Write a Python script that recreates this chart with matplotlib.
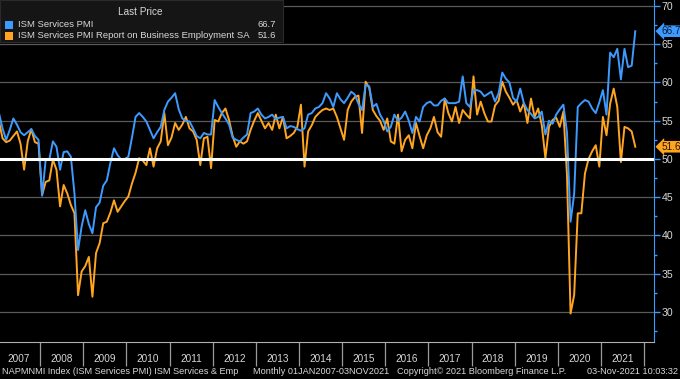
import numpy as np
import matplotlib
matplotlib.use("Agg")
import matplotlib.pyplot as plt
from matplotlib.patches import Rectangle
from matplotlib.ticker import MultipleLocator, FixedLocator, NullFormatter, FixedFormatter

plt.rcParams["font.family"] = ["Liberation Sans", "DejaVu Sans"]

# ---------------- data (monthly, Jan 2007 - Oct 2021) ----------------
start_year = 2007
pmi = [
    # 2007
    56.0, 54.0, 52.5, 53.8, 55.3, 54.5, 53.5, 53.1, 53.5, 53.9, 53.0, 52.5,
    # 2008
    45.2, 49.9, 49.9, 52.3, 51.6, 48.6, 50.9, 51.0, 50.3, 45.5, 38.1, 41.2,
    # 2009
    43.3, 41.5, 40.3, 43.7, 44.3, 46.5, 47.2, 49.5, 51.4, 50.5, 49.9, 50.0,
    # 2010
    50.3, 52.8, 55.5, 56.0, 55.5, 54.9, 53.8, 52.7, 53.5, 54.2, 56.4, 57.5,
    # 2011
    58.0, 58.6, 56.5, 55.3, 55.0, 54.9, 54.0, 53.0, 52.7, 53.4, 53.2, 53.2,
    # 2012
    57.7, 56.8, 56.0, 55.3, 54.5, 52.8, 52.5, 52.3, 52.8, 53.2, 56.0, 56.2,
    # 2013
    56.6, 55.8, 55.3, 55.5, 55.8, 55.2, 55.4, 55.5, 54.0, 54.3, 54.2, 53.9,
    # 2014
    53.7, 54.0, 55.8, 56.0, 56.6, 56.8, 57.3, 58.6, 57.9, 56.8, 58.6, 57.8,
    # 2015
    57.3, 58.0, 58.8, 58.4, 57.2, 56.4, 59.7, 59.5, 56.8, 57.2, 55.8, 55.0,
    # 2016
    53.6, 54.2, 55.8, 55.0, 55.4, 56.2, 55.0, 53.4, 55.5, 54.9, 56.8, 57.3,
    # 2017
    57.5, 57.0, 57.0, 57.6, 57.9, 57.3, 57.3, 57.3, 57.5, 60.8, 57.3, 56.8,
    # 2018
    59.0, 59.0, 58.8, 58.2, 58.5, 58.8, 57.5, 58.6, 61.3, 60.5, 60.0, 58.0,
    # 2019
    57.5, 59.2, 57.3, 56.4, 55.9, 55.3, 55.5, 56.2, 53.2, 55.0, 54.6, 55.8,
    # 2020
    56.5, 57.1, 53.5, 41.8, 45.4, 56.8, 57.3, 57.7, 57.5, 56.6, 56.0, 57.4,
    # 2021
    59.0, 55.8, 63.9, 63.3, 64.4, 60.4, 64.4, 62.0, 62.2, 66.7,
]
employment = [
    # 2007
    54.9, 52.7, 52.2, 52.4, 53.0, 53.6, 52.0, 48.6, 52.3, 53.9, 52.2, 52.0,
    # 2008
    45.3, 47.0, 47.2, 49.9, 48.6, 43.8, 46.6, 45.5, 44.0, 42.9, 32.2, 35.3,
    # 2009
    36.0, 37.2, 32.0, 37.7, 39.0, 41.6, 41.8, 43.0, 44.6, 43.1, 43.8, 44.5,
    # 2010
    45.1, 46.8, 48.2, 50.1, 49.8, 49.2, 51.4, 49.0, 51.4, 52.3, 56.0, 51.8,
    # 2011
    52.8, 54.7, 53.8, 54.5, 55.5, 54.0, 53.6, 52.5, 49.2, 52.7, 52.9, 48.8,
    # 2012
    55.1, 54.9, 56.0, 56.6, 55.1, 53.0, 51.6, 52.3, 52.0, 52.3, 53.8, 55.0,
    # 2013
    56.0, 55.0, 54.0, 54.7, 53.8, 55.8, 54.0, 55.5, 52.7, 53.0, 53.4, 54.2,
    # 2014
    57.1, 49.0, 53.6, 54.4, 55.5, 56.0, 56.4, 56.6, 56.4, 56.6, 55.5, 54.0,
    # 2015
    52.5, 56.4, 57.5, 58.1, 58.3, 53.4, 60.1, 59.3, 56.4, 55.6, 55.0, 53.8,
    # 2016
    55.3, 52.3, 52.0, 55.8, 51.0, 52.5, 53.1, 51.4, 54.7, 53.0, 51.4, 53.1,
    # 2017
    54.0, 55.5, 53.5, 52.9, 57.9, 56.0, 54.9, 56.8, 54.7, 56.4, 55.8, 55.3,
    # 2018
    60.8, 55.8, 57.5, 56.0, 54.9, 54.9, 57.0, 57.6, 60.1, 58.8, 58.0, 57.1,
    # 2019
    57.7, 56.2, 57.3, 54.7, 57.9, 55.5, 56.6, 54.4, 50.1, 54.2, 55.1, 55.4,
    # 2020
    54.2, 56.2, 48.0, 29.8, 32.2, 42.9, 42.9, 48.1, 50.0, 51.0, 51.8, 49.0,
    # 2021
    55.5, 53.1, 57.2, 59.2, 56.8, 49.6, 54.2, 54.0, 53.6, 51.6,
]
year_labels = [str(y) for y in range(2007, 2022)]
series_names = ["ISM Services PMI",
                "ISM Services PMI Report on Business Employment SA"]
last_values = [pmi[-1], employment[-1]]
footer_parts = ["NAPMNMI Index (ISM Services PMI) ISM Services & Emp",
                "Monthly 01JAN2007-03NOV2021",
                "Copyright\u00a9 2021 Bloomberg Finance L.P.",
                "03-Nov-2021 10:03:32"]

# ---------------- styling ----------------
BLUE = "#3d9bff"
ORANGE = "#ffa520"
GRID = "#5a5a5a"
TXT = "#d8d8d8"
W, H = 680, 379
FS = 6.6

t = start_year + (np.arange(len(pmi)) + 0.55) / 12.0

fig = plt.figure(figsize=(W / 100, H / 100), dpi=100, facecolor="black")
ax = fig.add_axes([0, 1 - 342 / H, 654 / W, 342 / H])
ax.set_facecolor("black")

ax.plot(t, employment, color=ORANGE, lw=1.4, zorder=3, solid_joinstyle="round")
ax.plot(t, pmi, color=BLUE, lw=1.4, zorder=4, solid_joinstyle="round")
ax.axhline(50, color="white", lw=2.2, zorder=5)

ax.set_xlim(2007.07, 2022.23)
ax.set_ylim(26.08, 70.78)

# y axis on the right
ax.yaxis.tick_right()
ax.yaxis.set_major_locator(MultipleLocator(5))
ax.yaxis.set_minor_locator(MultipleLocator(2.5))
ax.tick_params(axis="y", which="major", colors=BLUE, labelcolor=TXT, length=4,
               width=1, labelsize=FS + 1.0, pad=1.5)
ax.tick_params(axis="y", which="minor", colors=BLUE, length=2, width=1)
ax.grid(axis="y", which="major", color=GRID, lw=0.9, zorder=1)

# x axis: year separators and centred year labels
ax.xaxis.set_major_locator(FixedLocator(np.arange(2008, 2023)))
ax.xaxis.set_major_formatter(NullFormatter())
ax.xaxis.set_minor_locator(FixedLocator(np.arange(2007, 2022) + 0.5))
ax.xaxis.set_minor_formatter(FixedFormatter(year_labels))
ax.tick_params(axis="x", which="major", colors="#9a9a9a", length=17, width=0.9)
ax.tick_params(axis="x", which="minor", length=0, labelcolor=TXT,
               labelsize=FS + 0.6, pad=8.5)

for s in ["top", "left"]:
    ax.spines[s].set_visible(False)
ax.spines["right"].set_color(BLUE)
ax.spines["bottom"].set_color("#b0b0b0")

# value tags on the right
colors = [BLUE, ORANGE]
for v, c in zip(last_values, colors):
    ax.text(1.0 + 7.5 / 654, v, f"{v:.1f}", transform=ax.get_yaxis_transform(),
            ha="left", va="center", fontsize=FS + 0.6,
            color="#0b1a33" if c == BLUE else "#2a1500",
            bbox=dict(boxstyle="larrow,pad=0.08", fc=c, ec="none"), zorder=10,
            clip_on=False)

# legend box
fig.patches.append(Rectangle((0, 1 - 42 / H), 283 / W, 42 / H,
                             transform=fig.transFigure, fc="#151515",
                             ec="#2a2a2a", lw=0.8, zorder=6))
fig.text(140 / W, 1 - 12 / H, "Last Price", ha="center", va="center",
         fontsize=FS + 0.6, color=TXT, zorder=7)
for i, (name, v, c) in enumerate(zip(series_names, last_values, colors)):
    yc = 1 - (24.5 + i * 11) / H
    fig.patches.append(Rectangle((5 / W, yc - 4 / H), 8 / W, 8 / H,
                                 transform=fig.transFigure, fc=c, ec="none",
                                 zorder=7))
    fig.text(18 / W, yc, name, ha="left", va="center", fontsize=FS + 0.2,
             color=TXT, zorder=7)
    fig.text(276 / W, yc, f"{v:.1f}", ha="right", va="center", fontsize=FS + 0.2,
             color=TXT, zorder=7)

# footer
fy = 1 - 372 / H
fig.text(2 / W, fy, footer_parts[0], ha="left", va="center", fontsize=FS, color=TXT)
fig.text(253 / W, fy, footer_parts[1], ha="left", va="center", fontsize=FS, color=TXT)
fig.text(397 / W, fy, footer_parts[2], ha="left", va="center", fontsize=FS, color=TXT)
fig.text(678 / W, fy, footer_parts[3], ha="right", va="center", fontsize=FS, color=TXT)

fig.savefig("out.png", dpi=100, facecolor="black")
